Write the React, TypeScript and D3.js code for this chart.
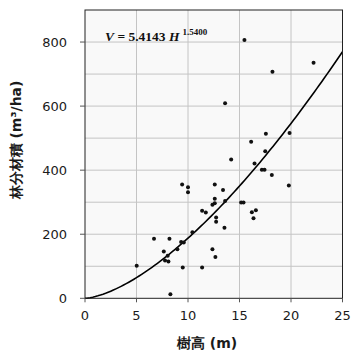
import React from "react";
import * as d3 from "d3";

const heights = [15.48, 22.19, 18.2, 13.6, 17.56, 19.86, 16.13, 17.5, 14.19, 16.46, 17.17, 17.43, 18.14, 19.79, 9.43, 10.0, 10.0, 12.6, 13.4, 12.6, 12.6, 12.37, 13.6, 15.16, 15.39, 16.2, 16.59, 16.36, 11.37, 11.73, 12.73, 12.73, 13.54, 10.43, 6.7, 8.2, 9.33, 9.59, 8.97, 7.65, 8.03, 7.77, 8.1, 12.37, 12.66, 5.02, 9.49, 11.37, 8.29];
const volumes = [806, 735, 707, 609, 514, 516, 489, 459, 433, 421, 401, 401, 385, 352, 355, 347, 331, 355, 338, 311, 297, 292, 304, 299, 299, 269, 275, 250, 273, 268, 252, 239, 220, 206, 186, 186, 176, 174, 153, 146, 133, 118, 115, 153, 129, 102, 96, 96, 13];
const xTicks = [0, 5, 10, 15, 20, 25];
const yTicks = [0, 200, 400, 600, 800];
const yGrid = [100, 200, 300, 400, 500, 600, 700, 800];
const coefA = 5.4143;
const coefB = 1.54;

export default function App() {
  const x = d3.scaleLinear().domain([0, 25]).range([85, 342.5]);
  const y = d3.scaleLinear().domain([0, 900]).range([298.3, 10]);
  const curveH = d3.range(0, 25.001, 0.25);
  const line = d3
    .line<number>()
    .x((h) => x(h))
    .y((h) => y(coefA * Math.pow(h, coefB)));
  const sans = "'DejaVu Sans', Verdana, sans-serif";
  return (
    <svg width={360} height={360} style={{ position: "absolute", left: 0, top: 0 }}>
      <rect x={0} y={0} width={360} height={360} fill="#fff" />
      <rect x={x(0)} y={y(900)} width={x(25) - x(0)} height={y(0) - y(900)} fill="#f9f9f9" />
      {xTicks.slice(1, -1).map((t) => (
        <line key={"gx" + t} x1={x(t)} x2={x(t)} y1={y(0)} y2={y(900)} stroke="#c4c4c4" strokeWidth={1} />
      ))}
      {yGrid.map((t) => (
        <line key={"gy" + t} x1={x(0)} x2={x(25)} y1={y(t)} y2={y(t)} stroke="#c4c4c4" strokeWidth={1} />
      ))}
      <path d={line(curveH) || ""} fill="none" stroke="#000" strokeWidth={1.6} />
      {heights.map((h, i) => (
        <circle key={i} cx={x(h)} cy={y(volumes[i])} r={2} fill="#111" />
      ))}
      <rect x={x(0)} y={y(900)} width={x(25) - x(0)} height={y(0) - y(900)} fill="none" stroke="#222" strokeWidth={1} />
      {xTicks.map((t) => (
        <g key={"xt" + t}>
          <line x1={x(t)} x2={x(t)} y1={y(0)} y2={y(0) + 4} stroke="#555" />
          <text x={x(t)} y={y(0) + 22} textAnchor="middle" fontFamily={sans} fontSize={13} fill="#1a1a1a">
            {t}
          </text>
        </g>
      ))}
      {yTicks.map((t) => (
        <g key={"yt" + t}>
          <line x1={x(0) - 5} x2={x(0)} y1={y(t)} y2={y(t)} stroke="#555" />
          <text x={x(0) - 18} y={y(t) + 4.5} textAnchor="end" fontFamily={sans} fontSize={13} fill="#1a1a1a">
            {t}
          </text>
        </g>
      ))}
      <text x={207} y={348} textAnchor="middle" fontFamily={sans} fontSize={14} fontWeight="bold" fill="#1a1a1a">
        樹高 (m)
      </text>
      <text
        transform="translate(21,140) rotate(-90)"
        textAnchor="middle"
        fontFamily={sans}
        fontSize={14}
        fontWeight="bold"
        fill="#1a1a1a"
      >
        林分材積 (m³/ha)
      </text>
      <text x={105} y={40.5} fontFamily="'Liberation Serif', 'Times New Roman', serif" fontSize={13.5} fontWeight="bold" fill="#111">
        <tspan fontStyle="italic">V</tspan>
        <tspan> = {coefA.toFixed(4)} </tspan>
        <tspan fontStyle="italic">H</tspan>
        <tspan fontSize={9} dy={-6} dx={3}>{coefB.toFixed(4)}</tspan>
      </text>
    </svg>
  );
}
